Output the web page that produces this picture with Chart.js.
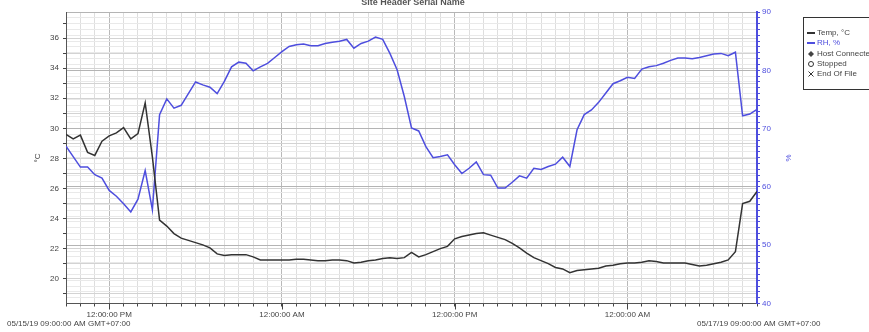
<!DOCTYPE html>
<html>
<head>
<meta charset="utf-8">
<script src="https://cdn.jsdelivr.net/npm/chart.js@4.4.1/dist/chart.umd.min.js"></script>
<style>
  html, body { margin: 0; padding: 0; background: #ffffff; }
  #wrap { width: 869px; height: 332px; position: relative; }
</style>
</head>
<body>
<div id="wrap"><canvas id="c" width="869" height="332"></canvas></div>
<script>
// Logger readings, one every 30 minutes from 05/15/19 09:00 AM
const tempC = [
  29.6, 29.3, 29.55, 28.4, 28.2, 29.15, 29.5, 29.7, 30.05, 29.3,
  29.65, 31.7, 28.1, 23.9, 23.5, 23.0, 22.7, 22.55, 22.4, 22.25,
  22.05, 21.65, 21.55, 21.6, 21.6, 21.6, 21.45, 21.25, 21.25, 21.25,
  21.25, 21.25, 21.3, 21.3, 21.25, 21.2, 21.2, 21.25, 21.25, 21.2,
  21.05, 21.1, 21.2, 21.25, 21.35, 21.4, 21.35, 21.4, 21.75, 21.45,
  21.6, 21.8, 22.0, 22.15, 22.65, 22.8, 22.9, 23.0, 23.05, 22.9,
  22.75, 22.6, 22.35, 22.05, 21.7, 21.4, 21.2, 21.0, 20.75, 20.65,
  20.4, 20.55, 20.6, 20.65, 20.7, 20.85, 20.9, 21.0, 21.05, 21.05,
  21.1, 21.2, 21.15, 21.05, 21.05, 21.05, 21.05, 20.95, 20.85, 20.9,
  21.0, 21.1, 21.25, 21.8, 25.0, 25.15, 25.8
];
const rhPct = [
  67.0, 65.2, 63.4, 63.4, 62.1, 61.5, 59.4, 58.4, 57.1, 55.7,
  57.9, 62.8, 56.1, 72.4, 75.1, 73.5, 74.0, 76.0, 78.0, 77.5,
  77.1, 76.0, 78.1, 80.6, 81.4, 81.2, 79.9, 80.6, 81.2, 82.2,
  83.2, 84.1, 84.4, 84.5, 84.2, 84.2, 84.6, 84.8, 85.0, 85.3,
  83.8, 84.6, 85.0, 85.7, 85.3, 82.9, 80.1, 75.5, 70.1, 69.6,
  66.9, 65.0, 65.2, 65.5, 63.8, 62.3, 63.2, 64.3, 62.1, 62.0,
  59.8, 59.8, 60.8, 61.9, 61.5, 63.2, 63.0, 63.5, 63.9, 65.1,
  63.5, 69.8, 72.4, 73.2, 74.5, 76.1, 77.7, 78.2, 78.8, 78.6,
  80.2, 80.6, 80.8, 81.2, 81.7, 82.1, 82.1, 82.0, 82.2, 82.5,
  82.8, 82.9, 82.5, 83.1, 72.2, 72.5, 73.3
];
// hours elapsed since the start of the log (30 minute interval)
const hours = tempC.map((_, i) => i * 0.5);

// time axis labels, keyed by hours since start
const timeTickLabels = { 3: '12:00:00 PM', 15: '12:00:00 AM', 27: '12:00:00 PM', 39: '12:00:00 AM' };
const startLabel = '05/15/19 09:00:00 AM GMT+07:00';
const endLabel = '05/17/19 09:00:00 AM GMT+07:00';
const tempTicks = [19, 20, 21, 22, 23, 24, 25, 26, 27, 28, 29, 30, 31, 32, 33, 34, 35, 36, 37];
const legendItems = ['Temp, °C', 'RH, %', 'Host Connected', 'Stopped', 'End Of File'];
const chartTitle = 'Site Header Serial Name';

const FONT = '"Liberation Sans", Arial, sans-serif';
const BLUE = 'rgb(78, 78, 222)';
const DARK = '#333333';

Chart.defaults.font.family = FONT;
Chart.defaults.font.size = 8;
Chart.defaults.color = '#444444';

const decor = {
  id: 'decor',
  afterDraw(chart) {
    const ctx = chart.ctx;
    const x = chart.scales.x;
    ctx.save();

    // longer tick marks at the 12-hour marks
    ctx.strokeStyle = '#444';
    ctx.lineWidth = 1;
    Object.keys(timeTickLabels).forEach(h => {
      const px = Math.round(x.getPixelForValue(Number(h))) + 0.5;
      ctx.beginPath();
      ctx.moveTo(px, x.top);
      ctx.lineTo(px, x.top + 6);
      ctx.stroke();
    });

    // start / end stamps
    ctx.font = '8px ' + FONT;
    ctx.fillStyle = '#444';
    ctx.textBaseline = 'middle';
    ctx.textAlign = 'left';
    ctx.fillText(startLabel, 7, 323.5);
    ctx.fillText(endLabel, 697, 324);

    // axis titles
    ctx.save();
    ctx.translate(38, 158);
    ctx.rotate(-Math.PI / 2);
    ctx.textAlign = 'center';
    ctx.fillStyle = '#444';
    ctx.fillText('°C', 0, 0);
    ctx.restore();
    ctx.save();
    ctx.translate(789, 158);
    ctx.rotate(-Math.PI / 2);
    ctx.textAlign = 'center';
    ctx.fillStyle = BLUE;
    ctx.fillText('%', 0, 0);
    ctx.restore();

    // title, running off the top edge
    ctx.font = 'bold 9px ' + FONT;
    ctx.fillStyle = '#555';
    ctx.textAlign = 'center';
    ctx.textBaseline = 'alphabetic';
    ctx.fillText(chartTitle, 413, 5);

    // legend box
    ctx.textBaseline = 'middle';
    ctx.strokeStyle = '#333';
    ctx.lineWidth = 1;
    ctx.strokeRect(803.5, 17.5, 90, 72);
    ctx.font = '8px ' + FONT;
    ctx.textAlign = 'left';
    const rows = [33, 43, 54, 64, 74];
    legendItems.forEach((t, i) => {
      const y = rows[i];
      ctx.fillStyle = i === 1 ? BLUE : '#444';
      ctx.strokeStyle = i === 1 ? BLUE : DARK;
      if (i < 2) {
        ctx.lineWidth = 2;
        ctx.beginPath();
        ctx.moveTo(807, y);
        ctx.lineTo(815, y);
        ctx.stroke();
      } else if (i === 2) {
        ctx.beginPath();
        ctx.moveTo(811, y - 3); ctx.lineTo(814, y); ctx.lineTo(811, y + 3); ctx.lineTo(808, y);
        ctx.closePath();
        ctx.fill();
      } else if (i === 3) {
        ctx.lineWidth = 1;
        ctx.beginPath();
        ctx.arc(811, y, 2.5, 0, Math.PI * 2);
        ctx.stroke();
      } else {
        ctx.lineWidth = 1;
        ctx.beginPath();
        ctx.moveTo(808.5, y - 2.5); ctx.lineTo(813.5, y + 2.5);
        ctx.moveTo(813.5, y - 2.5); ctx.lineTo(808.5, y + 2.5);
        ctx.stroke();
      }
      ctx.fillText(t, 817, y);
    });
    ctx.restore();
  }
};

new Chart(document.getElementById('c'), {
  type: 'line',
  data: {
    labels: hours,
    datasets: [
      {
        label: legendItems[0], data: tempC, yAxisID: 'y',
        borderColor: DARK, borderWidth: 1.5, pointRadius: 0, tension: 0
      },
      {
        label: legendItems[1], data: rhPct, yAxisID: 'y1',
        borderColor: BLUE, borderWidth: 1.5, pointRadius: 0, tension: 0
      }
    ]
  },
  options: {
    responsive: false,
    animation: false,
    events: [],
    layout: { padding: { top: 12, left: 0, right: 0, bottom: 0 } },
    plugins: { legend: { display: false }, tooltip: { enabled: false } },
    scales: {
      x: {
        type: 'linear', min: 0, max: 48,
        afterFit: s => { s.height = 28.5; },
        afterBuildTicks: s => { s.ticks = hours.filter(h => Number.isInteger(h)).map(v => ({ value: v })); },
        border: { color: '#555', width: 1 },
        grid: {
          color: c => (timeTickLabels[c.tick.value] ? '#b9b9b9' : '#dedede'),
          tickColor: '#444', tickLength: 3, lineWidth: 1
        },
        ticks: {
          autoSkip: false, maxRotation: 0, padding: 3, color: '#444',
          callback: v => timeTickLabels[v] || ''
        }
      },
      y: {
        position: 'left', min: 18.35, max: 37.74,
        afterFit: s => { s.width = 66; },
        afterBuildTicks: s => { s.ticks = tempTicks.map(v => ({ value: v })); },
        border: { color: '#555', width: 1 },
        grid: { color: '#d3d3d3', tickColor: '#444', tickLength: 3 },
        ticks: { padding: 4, color: '#444', callback: v => (v % 2 === 0 ? String(v) : '') }
      },
      y1: {
        position: 'right', min: 40, max: 90,
        afterFit: s => { s.width = 112; },
        border: { color: BLUE, width: 2 },
        grid: {
          color: c => (c.tick.value % 10 === 0 ? '#b4b4b4' : '#e9e9e9'),
          tickColor: BLUE, tickLength: 3
        },
        ticks: { stepSize: 1, autoSkip: false, padding: 2, color: BLUE, callback: v => (v % 10 === 0 ? String(v) : '') }
      }
    }
  },
  plugins: [decor]
});
</script>
</body>
</html>
